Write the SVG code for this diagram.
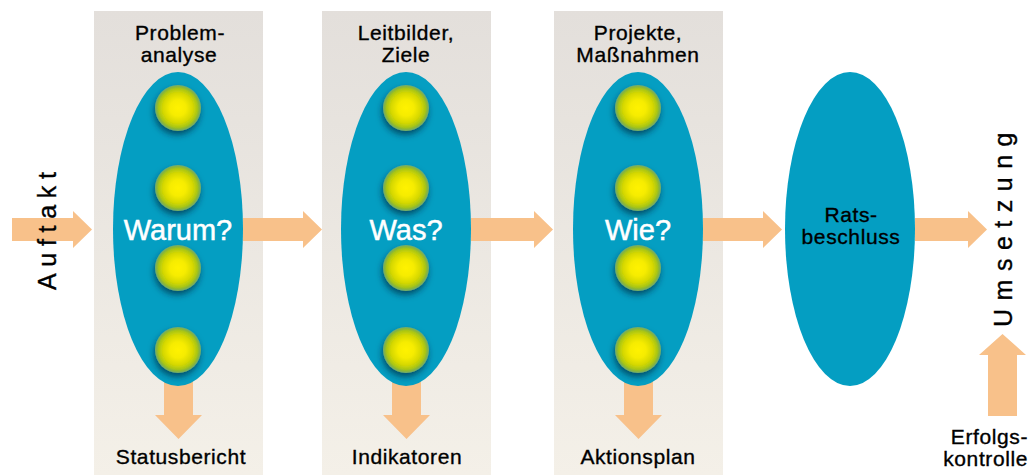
<svg xmlns="http://www.w3.org/2000/svg" width="1031" height="475" viewBox="0 0 1031 475">
  <defs>
    <linearGradient id="panelFill" x1="0" y1="0" x2="0" y2="1">
      <stop offset="0" stop-color="#e3dfdb"/>
      <stop offset="1" stop-color="#f4f0e8"/>
    </linearGradient>
    <radialGradient id="dotFill" cx="0.5" cy="0.5" r="0.5">
      <stop offset="0" stop-color="#fff200"/>
      <stop offset="0.35" stop-color="#f6ec00"/>
      <stop offset="0.65" stop-color="#d6d800"/>
      <stop offset="0.84" stop-color="#aac614"/>
      <stop offset="0.92" stop-color="#88b53a"/>
      <stop offset="1" stop-color="#6fab72"/>
    </radialGradient>
    <filter id="dotShadow" x="-50%" y="-50%" width="200%" height="200%">
      <feDropShadow dx="-1" dy="4" stdDeviation="3" flood-color="#00263a" flood-opacity="0.65"/>
    </filter>
    <g id="dot">
      <circle r="23" fill="url(#dotFill)" filter="url(#dotShadow)"/>
    </g>
  </defs>
  <style>
    .panel { fill: url(#panelFill); }
    .oval { fill: #049ec2; }
    .arrow { fill: #f8c18a; }
    .lbl { font-family: "Liberation Sans", Arial, sans-serif; font-size: 21px; letter-spacing: 0.6px; fill: #000; stroke: #000; stroke-width: 0.35px; text-anchor: middle; }
    .q { font-family: "Liberation Sans", Arial, sans-serif; font-size: 29px; fill: #fff; stroke: #fff; stroke-width: 0.5px; text-anchor: middle; }
    .side { font-family: "Liberation Sans", Arial, sans-serif; font-size: 25px; fill: #000; stroke: #000; stroke-width: 0.35px; }
  </style>

  <!-- phase columns -->
  <rect class="panel" x="94" y="11" width="169" height="464"/>
  <rect class="panel" x="322" y="11" width="169" height="464"/>
  <rect class="panel" x="554" y="11" width="169" height="464"/>

  <!-- connectors -->
  <g id="connectors">
    <path class="arrow" d="M12 218 H73 V211 L92 229.5 L73 248 V241 H12 Z"/>
    <path class="arrow" d="M243 218 H303 V211 L322 229.5 L303 248 V241 H243 Z"/>
    <path class="arrow" d="M471 218 H534 V211 L553 229.5 L534 248 V241 H471 Z"/>
    <path class="arrow" d="M703 218 H763 V211 L782 229.5 L763 248 V241 H703 Z"/>
    <path class="arrow" d="M915 218 H968 V211 L987 229.5 L968 248 V241 H915 Z"/>
    <path class="arrow" d="M164 380 V415 H155 L178.5 439 L202 415 H193 V380 Z"/>
    <path class="arrow" d="M392 380 V415 H383 L406.5 439 L430 415 H421 V380 Z"/>
    <path class="arrow" d="M624 380 V415 H615 L638.5 439 L662 415 H653 V380 Z"/>
    <path class="arrow" d="M988 416 V355 H979 L1002.5 334 L1026 355 H1017 V416 Z"/>
  </g>

  <!-- phase 1: Warum? -->
  <g id="warum">
    <text class="lbl" x="180" y="40">Problem-</text>
    <text class="lbl" x="179" y="62">analyse</text>
    <ellipse class="oval" cx="178" cy="229" rx="65" ry="157"/>
    <use href="#dot" x="178" y="108"/>
    <use href="#dot" x="178" y="188"/>
    <use href="#dot" x="178" y="268"/>
    <use href="#dot" x="178" y="350"/>
    <text class="q" x="178" y="240">Warum?</text>
    <text class="lbl" x="181" y="464">Statusbericht</text>
  </g>

  <!-- phase 2: Was? -->
  <g id="was">
    <text class="lbl" x="406" y="40">Leitbilder,</text>
    <text class="lbl" x="406" y="62">Ziele</text>
    <ellipse class="oval" cx="406" cy="229" rx="65" ry="157"/>
    <use href="#dot" x="406" y="108"/>
    <use href="#dot" x="406" y="188"/>
    <use href="#dot" x="406" y="268"/>
    <use href="#dot" x="406" y="350"/>
    <text class="q" x="406" y="240">Was?</text>
    <text class="lbl" x="407" y="464">Indikatoren</text>
  </g>

  <!-- phase 3: Wie? -->
  <g id="wie">
    <text class="lbl" x="638" y="40">Projekte,</text>
    <text class="lbl" x="638" y="62">Maßnahmen</text>
    <ellipse class="oval" cx="638" cy="229" rx="65" ry="157"/>
    <use href="#dot" x="638" y="108"/>
    <use href="#dot" x="638" y="188"/>
    <use href="#dot" x="638" y="268"/>
    <use href="#dot" x="638" y="350"/>
    <text class="q" x="638" y="240">Wie?</text>
    <text class="lbl" x="638" y="464">Aktionsplan</text>
  </g>

  <!-- council decision -->
  <g id="ratsbeschluss">
    <ellipse class="oval" cx="850" cy="229" rx="65" ry="157"/>
    <text class="lbl" x="851" y="222">Rats-</text>
    <text class="lbl" x="851" y="244">beschluss</text>
  </g>

  <!-- start, written bottom to top -->
  <g id="auftakt">
    <text class="side" transform="translate(56 290) rotate(-90)" style="letter-spacing:6.7px">Auftakt</text>
  </g>

  <!-- implementation, written bottom to top -->
  <g id="umsetzung">
    <text class="side" transform="translate(1012 327) rotate(-90)" style="letter-spacing:8.5px">Umsetzung</text>
  </g>

  <!-- monitoring -->
  <g id="erfolgskontrolle">
    <text class="lbl" x="1028" y="444" style="text-anchor:end">Erfolgs-</text>
    <text class="lbl" x="1028" y="466" style="text-anchor:end">kontrolle</text>
  </g>
</svg>
